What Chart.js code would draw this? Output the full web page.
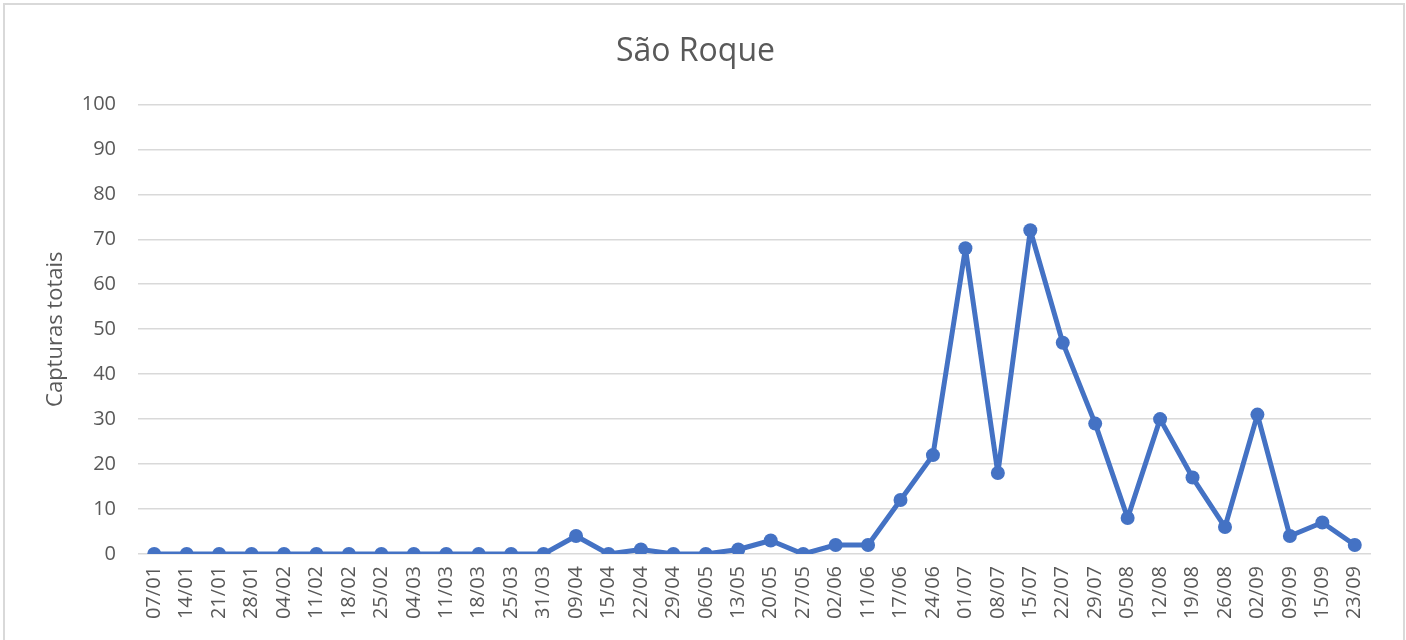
<!DOCTYPE html>
<html>
<head>
<meta charset="utf-8">
<script src="https://cdn.jsdelivr.net/npm/chart.js@4"></script>
<style>
  html, body { margin: 0; padding: 0; background: #fff; overflow: hidden; }
  .frame { position: absolute; left: 3px; top: 3px; width: 1398px; height: 700px; border: 2px solid #d9d9d9; }
  .wrap { position: absolute; left: 0; top: 0; width: 1406px; height: 640px; }
</style>
</head>
<body>
<div class="frame"></div>
<div class="wrap"><canvas id="chart"></canvas></div>
<script>
// ===== Data =====
const dates = [
  '07/01', '14/01', '21/01', '28/01', '04/02', '11/02', '18/02', '25/02',
  '04/03', '11/03', '18/03', '25/03', '31/03', '09/04', '15/04', '22/04',
  '29/04', '06/05', '13/05', '20/05', '27/05', '02/06', '11/06', '17/06',
  '24/06', '01/07', '08/07', '15/07', '22/07', '29/07', '05/08', '12/08',
  '19/08', '26/08', '02/09', '09/09', '15/09', '23/09'
];
const capturas = [
  0, 0, 0, 0, 0, 0, 0, 0,
  0, 0, 0, 0, 0, 4, 0, 1,
  0, 0, 1, 3, 0, 2, 2, 12,
  22, 68, 18, 72, 47, 29, 8, 30,
  17, 6, 31, 4, 7, 2
];
const yTicks = [0, 10, 20, 30, 40, 50, 60, 70, 80, 90, 100];

const chartTitle = 'São Roque';
const yAxisTitle = 'Capturas totais';

// ===== Styles =====
const textColor = '#595959';
const gridColor = '#d9d9d9';
const lineColor = '#4472C4';
const fontFamily = '"Open Sans", "Liberation Sans", sans-serif';

new Chart(document.getElementById('chart'), {
  type: 'line',
  data: {
    labels: dates,
    datasets: [{
      label: yAxisTitle,
      data: capturas,
      borderColor: lineColor,
      backgroundColor: lineColor,
      borderWidth: 5,
      borderJoinStyle: 'round',
      borderCapStyle: 'round',
      pointRadius: 7,
      pointBorderWidth: 0,
      pointBackgroundColor: lineColor,
      pointBorderColor: lineColor,
      tension: 0,
      fill: false
    }]
  },
  options: {
    responsive: true,
    maintainAspectRatio: false,
    animation: false,
    layout: { padding: { left: 20, right: 35, top: 0, bottom: 0 } },
    plugins: {
      legend: { display: false },
      tooltip: { enabled: false },
      title: {
        display: true,
        text: chartTitle,
        color: textColor,
        font: { family: fontFamily, size: 32, weight: 'normal' },
        padding: { top: 33, bottom: 33 }
      }
    },
    scales: {
      x: {
        offset: true,
        grid: { display: false, drawTicks: false },
        border: { display: false },
        ticks: {
          color: textColor,
          font: { family: fontFamily, size: 20 },
          minRotation: 90,
          maxRotation: 90,
          autoSkip: false,
          padding: 12
        },
        afterFit: scale => { scale.height = 86; }
      },
      y: {
        min: 0,
        max: 100,
        afterBuildTicks: scale => { scale.ticks = yTicks.map(v => ({ value: v })); },
        grid: { color: gridColor, lineWidth: 1.5, drawTicks: false },
        border: { display: false },
        ticks: {
          color: textColor,
          font: { family: fontFamily, size: 20 },
          padding: 22
        },
        title: {
          display: true,
          text: yAxisTitle,
          color: textColor,
          font: { family: fontFamily, size: 22 },
          padding: { top: 23, bottom: 0 }
        },
        afterFit: scale => { scale.width = 118; }
      }
    }
  }
});
</script>
</body>
</html>
